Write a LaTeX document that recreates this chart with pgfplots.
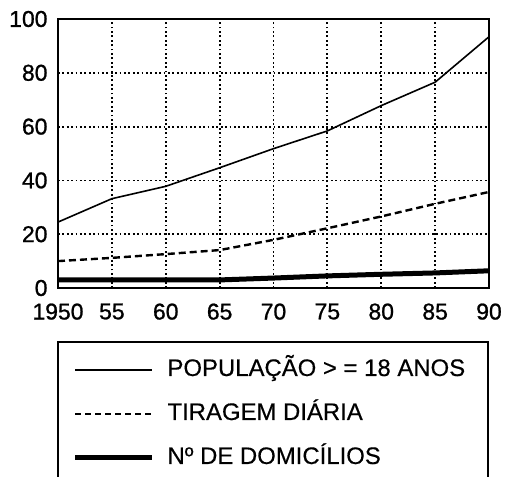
\documentclass[border=0pt]{standalone}
\usepackage{pgfplots}
\pgfplotsset{compat=1.18}
\usepackage{fontspec}
\setmainfont{Liberation Sans}
\newfontfamily\tickfont[FakeBold=1]{Liberation Sans}
\newfontfamily\legfont[FakeBold=0.4]{Liberation Sans}
\begin{document}
\begin{tikzpicture}
\begin{axis}[
  scale only axis, width=431bp, height=269bp,
  at={(0,0)}, anchor=south west,
  xmin=1950, xmax=1990, ymin=0, ymax=100,
  xtick={1950,1955,...,1990},
  xticklabels={1950,55,60,65,70,75,80,85,90},
  ytick={0,20,...,100},
  major tick length=0pt,
  grid=major,
  major grid style={line width=1.8bp, dash pattern=on 1.8bp off 2.6bp, black},
  axis line style={line width=2bp},
  /pgf/number format/assume math mode=true,
  tick label style={font=\tickfont\fontsize{23}{27}\selectfont},
  yticklabel style={xshift=-7bp},
  xticklabel style={yshift=-12bp},
  legend style={at={(0.4977,-0.197)}, anchor=north, inner xsep=15bp, inner ysep=15bp,
    column sep=11bp, row sep=18bp, line width=2bp,
    nodes={inner sep=2bp, text height=17bp, text depth=5bp},
    font=\legfont\fontsize{24}{28}\selectfont, cells={anchor=west}},
  legend image code/.code={\draw[#1] (0bp,0bp) -- (77bp,0bp);},
]
\addplot[black, line width=1.6bp, forget plot] coordinates {
 (1950,24.5) (1955,33.2) (1960,37.8) (1965,44.7) (1970,51.8) (1975,58.4) (1980,67.8) (1985,76.5) (1990,93.4)};
\addplot[black, line width=2.4bp, dash pattern=on 7bp off 4bp, forget plot] coordinates {
 (1950,10.0) (1955,11.2) (1960,12.6) (1965,14.1) (1970,17.9) (1975,22.2) (1980,26.6) (1985,31.3) (1990,35.7)};
\addplot[black, line width=5bp, forget plot] coordinates {
 (1950,3.0) (1955,3.0) (1960,3.0) (1965,3.0) (1970,3.7) (1975,4.5) (1980,5.1) (1985,5.6) (1990,6.4)};
\addlegendimage{black, line width=1.5bp}
\addlegendentry{\makebox[303bp][l]{POPULAÇÃO > = 18 ANOS}}
\addlegendimage{black, line width=1.4bp, dash pattern=on 6bp off 4bp}
\addlegendentry{TIRAGEM DIÁRIA}
\addlegendimage{black, line width=5bp}
\addlegendentry{Nº DE DOMICÍLIOS}
\end{axis}
\pgfresetboundingbox
\path[use as bounding box] (-58bp,-189bp) rectangle (449bp,288bp);
\end{tikzpicture}
\end{document}
